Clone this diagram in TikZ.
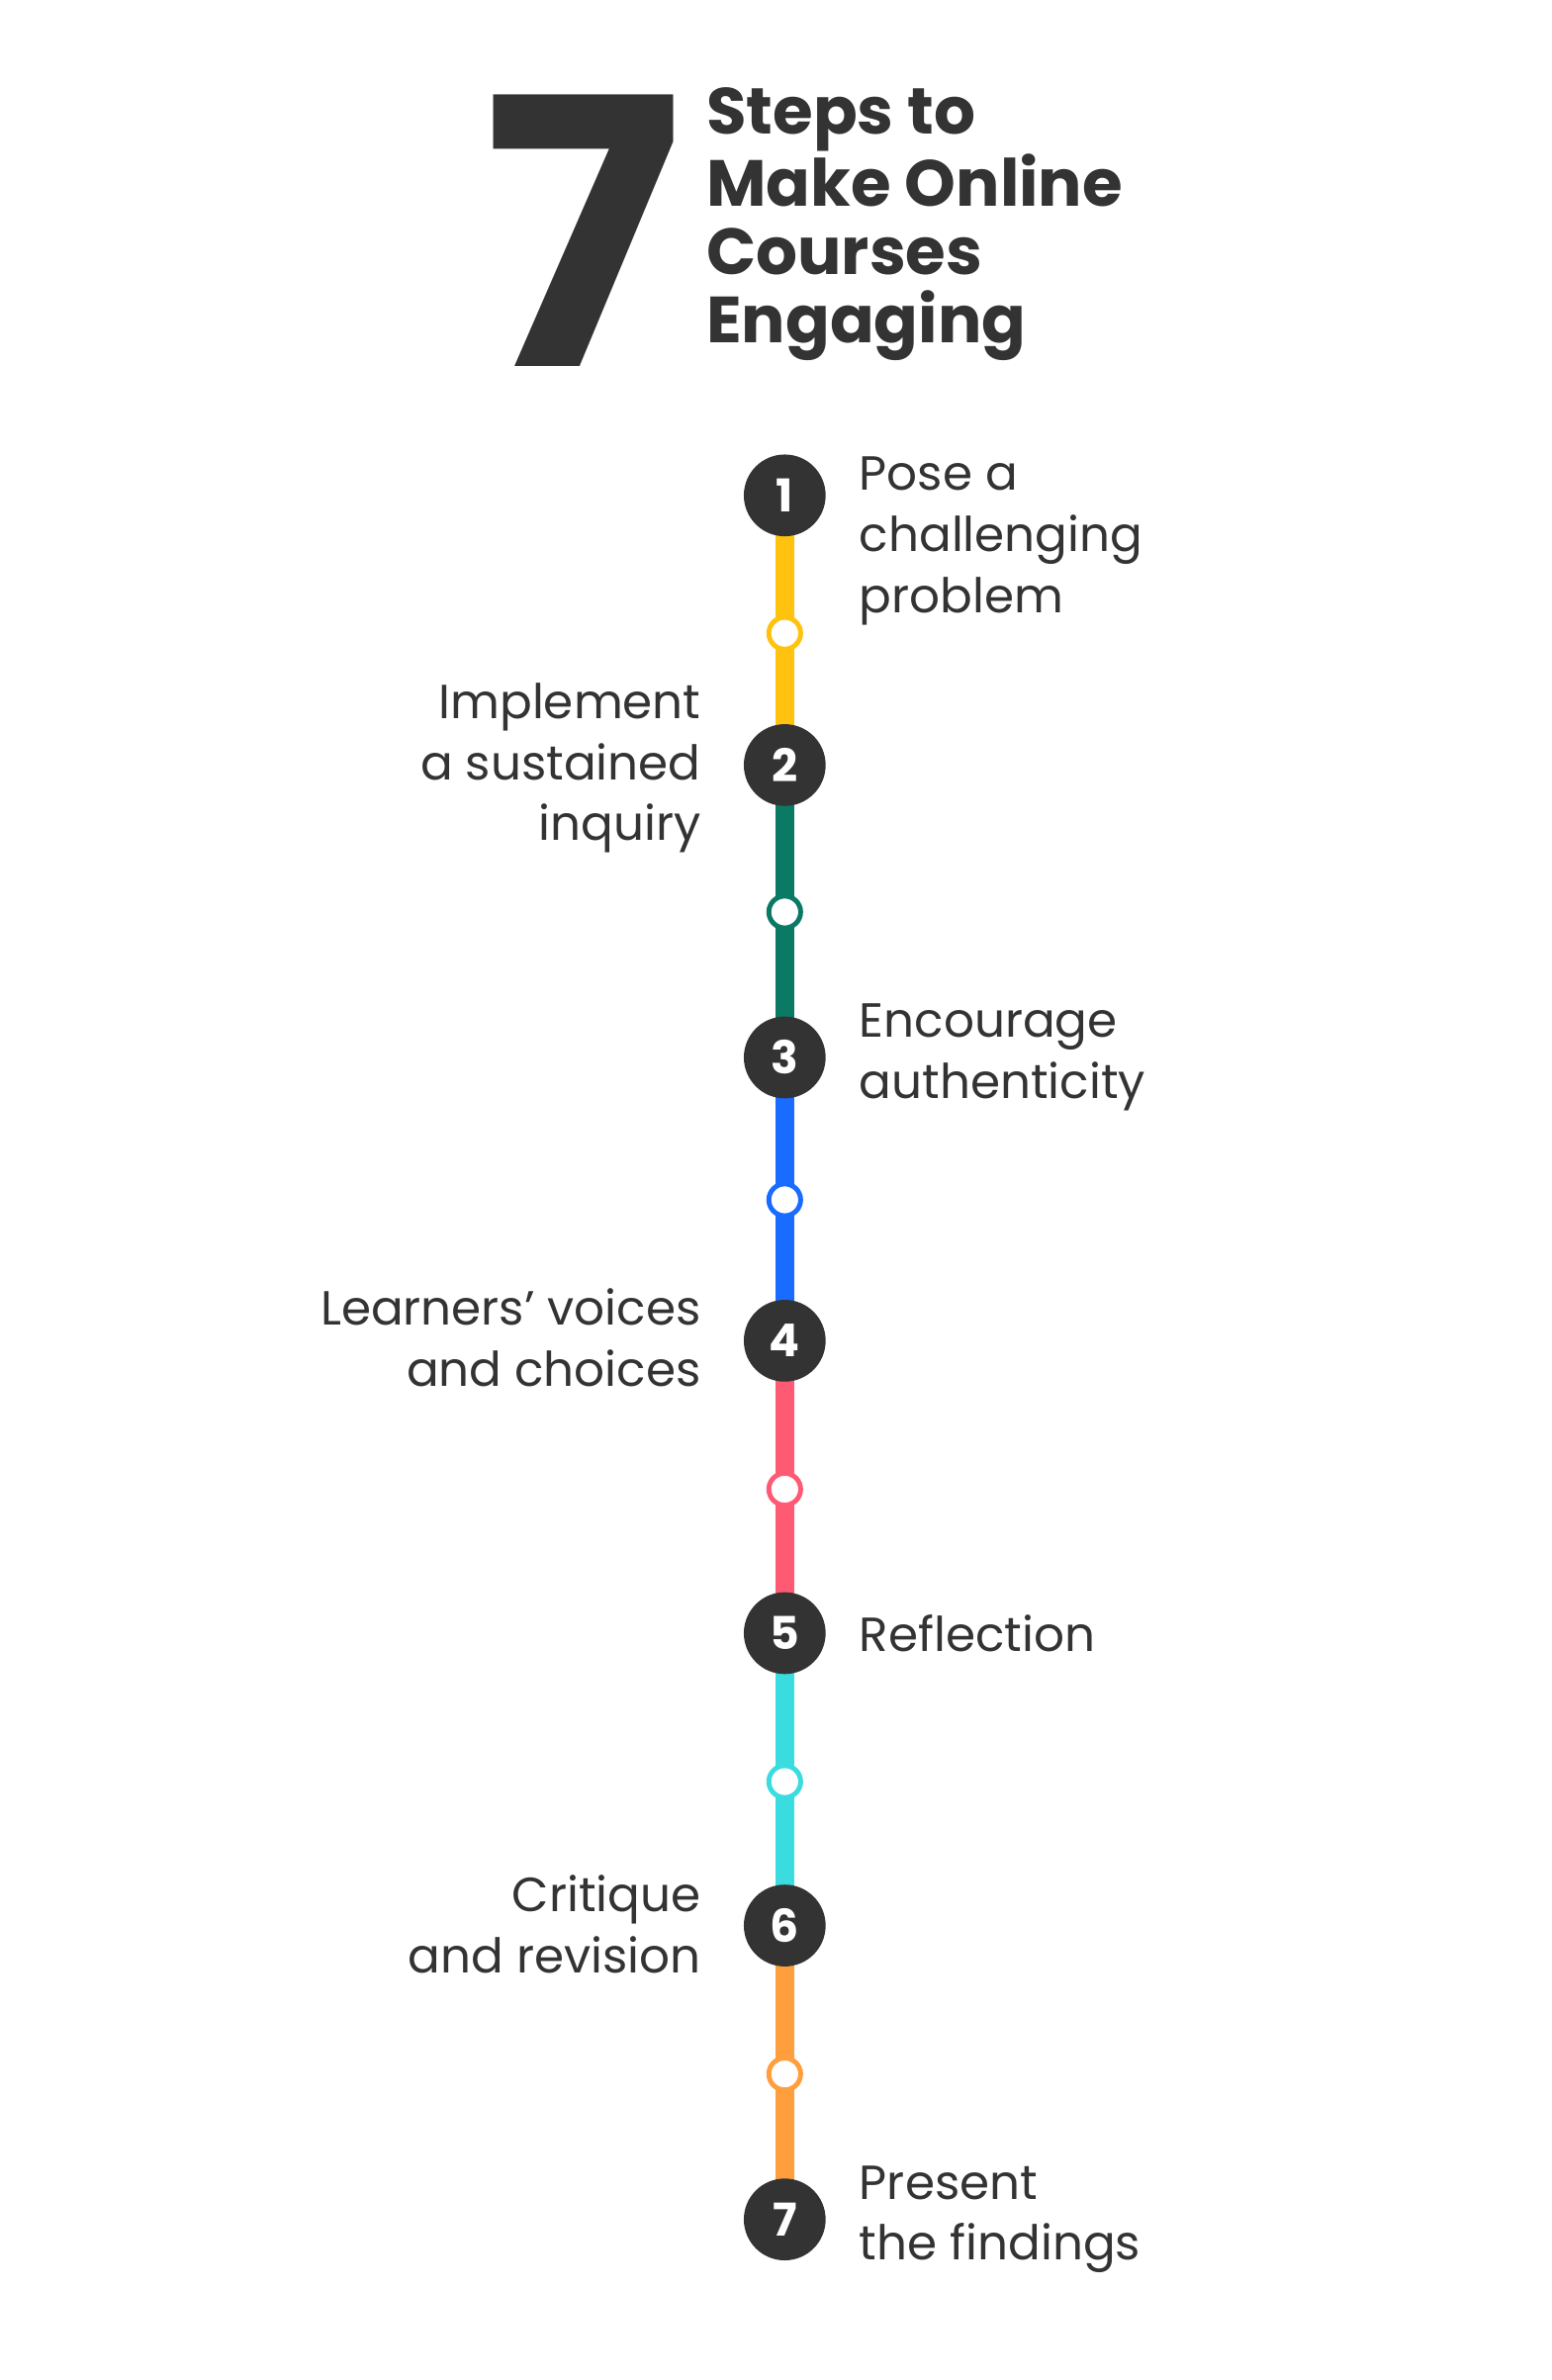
\documentclass[tikz,border=0pt]{standalone}
\usepackage{fontspec}
\setmainfont{Poppins}
\definecolor{ink}{HTML}{333333}
\definecolor{cyellow}{HTML}{FFC20E}
\definecolor{cgreen}{HTML}{0B7A65}
\definecolor{cblue}{HTML}{1A6BFF}
\definecolor{cpink}{HTML}{FF5A74}
\definecolor{ccyan}{HTML}{3ADCE0}
\definecolor{corange}{HTML}{FF9E3D}
\newdimen\pxu \pxu=0.02cm
\tikzset{
  stepdot/.style={circle,fill=ink,minimum size=54\pxu,inner sep=0,text=white,font=\bfseries\fontsize{17}{17}\selectfont},
  ring/.style={circle,draw=#1,line width=3.2\pxu,fill=white,minimum size=21\pxu,inner sep=0},
  seg/.style={line width=12\pxu,#1},
  lblr/.style={anchor=west,align=left,text=ink,inner sep=0,font=\fontsize{18}{23}\selectfont},
  lbll/.style={anchor=east,align=right,text=ink,inner sep=0,font=\fontsize{18}{23}\selectfont}
}
\begin{document}
\begin{tikzpicture}[x=0.02cm,y=-0.02cm]
  \useasboundingbox[fill=white] (0,0) rectangle (1024,1571);
  % title
  \node[text=ink,inner sep=0,font=\bfseries\fontsize{140}{140}\selectfont] (big) at (385,152) {7};
  \node[anchor=west,align=left,text=ink,inner sep=0,font=\bfseries\fontsize{24.5}{25.6}\selectfont] (title) at (466,148)
    {Steps to\\Make Online\\Courses\\Engaging};
  % steps and rings
  \foreach \n/\y in {1/327,2/505,3/698,4/885,5/1078,6/1271,7/1465}
    \coordinate (p\n) at (518,\y);
  \foreach \n/\y/\c in {1/418/cyellow,2/602/cgreen,3/792/cblue,4/983/cpink,5/1176/ccyan,6/1369/corange}{
    \pgfmathtruncatemacro\m{\n+1}
    \draw[seg=\c] (p\n) -- (p\m);
    \node[ring=\c] (r\n) at (518,\y) {};
  }
  \foreach \n in {1,...,7}
    \node[stepdot] (s\n) at (p\n) {\n};
  % labels
  \node[lblr] (t1) at (567,357) {Pose a\\challenging\\problem};
  \node[lbll] (t2) at (463,507) {Implement\\a sustained\\inquiry};
  \node[lblr] (t3) at (567,698) {Encourage\\authenticity};
  \node[lbll] (t4) at (463,883) {Learners' voices\\and choices};
  \node[lblr] (t5) at (567,1078) {Reflection};
  \node[lbll] (t6) at (463,1270) {Critique\\and revision};
  \node[lblr] (t7) at (567,1465) {Present\\the findings};
\end{tikzpicture}
\end{document}
